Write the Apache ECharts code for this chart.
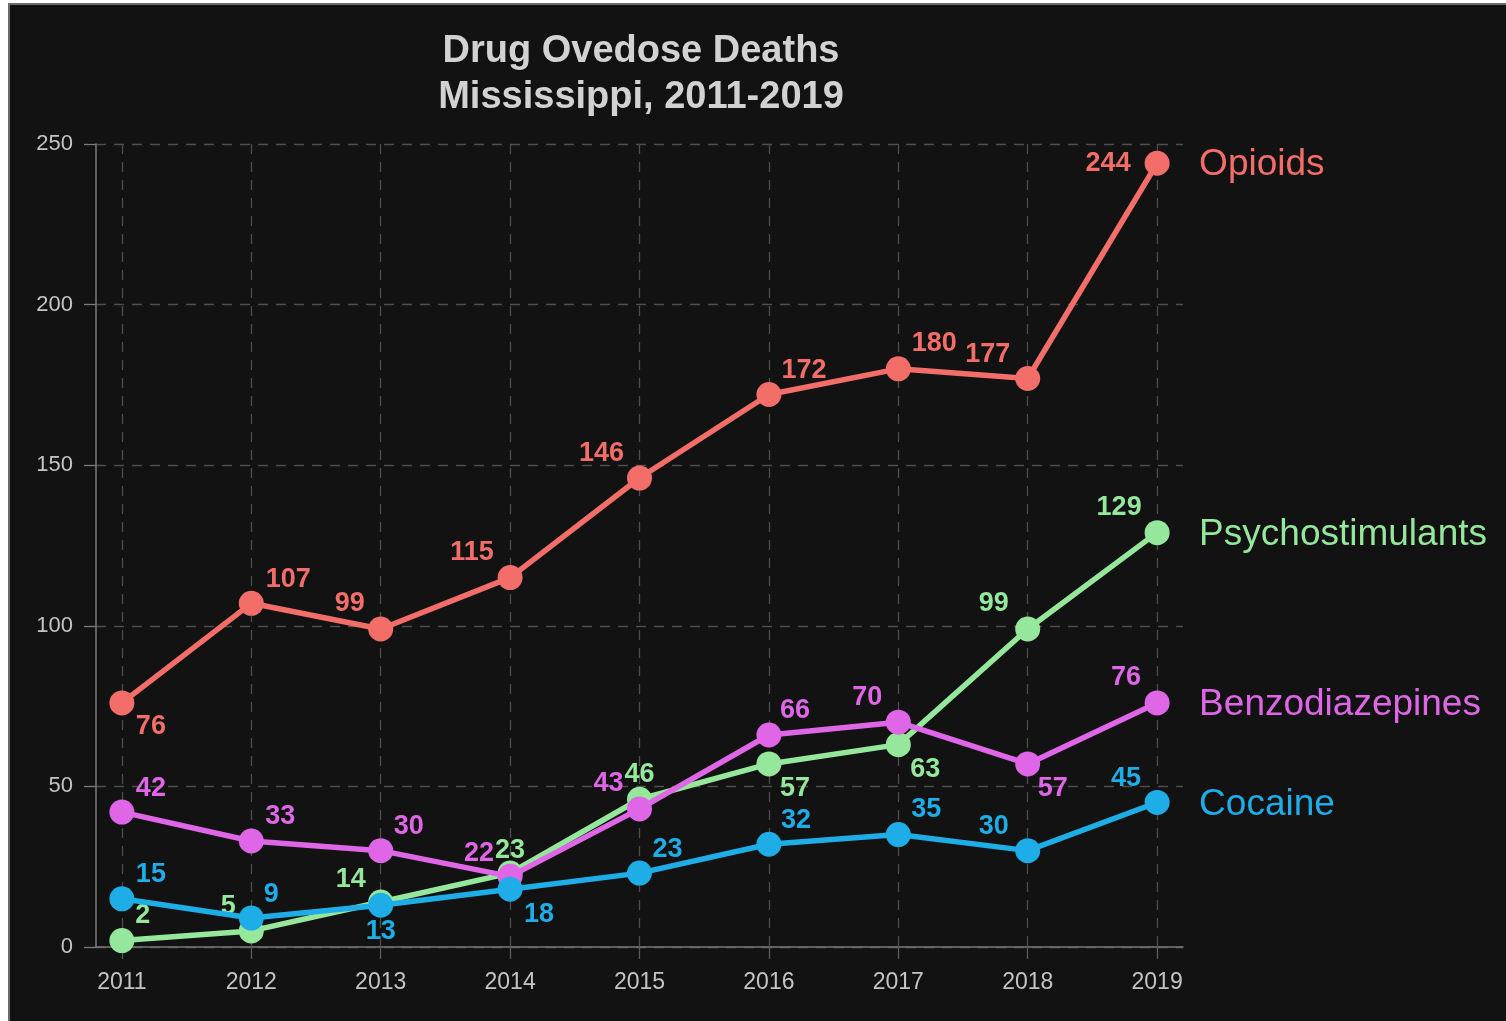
<!DOCTYPE html>
<html><head><meta charset="utf-8">
<script src="https://cdn.jsdelivr.net/npm/echarts@6/dist/echarts.min.js"></script>
<style>
html,body{margin:0;padding:0;background:#fff;width:1506px;height:1021px;overflow:hidden}
#panel{position:absolute;left:8px;top:3px;width:1520px;height:1040px;background:#121212;border-top:2px solid #6b6b6b;border-left:2px solid #6b6b6b;}
#chart{position:absolute;left:0;top:0;width:1506px;height:1021px}
</style></head><body>
<div id="panel"></div><div id="chart"></div>
<script>
const years = [2011, 2012, 2013, 2014, 2015, 2016, 2017, 2018, 2019];
const seriesNames = ['Opioids', 'Psychostimulants', 'Benzodiazepines', 'Cocaine'];
const opioids = [76, 107, 99, 115, 146, 172, 180, 177, 244];
const psychostimulants = [2, 5, 14, 23, 46, 57, 63, 99, 129];
const benzodiazepines = [42, 33, 30, 22, 43, 66, 70, 57, 76];
const cocaine = [15, 9, 13, 18, 23, 32, 35, 30, 45];
const yTicks = [0, 50, 100, 150, 200, 250];
const titleLines = ['Drug Ovedose Deaths', 'Mississippi, 2011-2019'];

// label placement (style only)
const labelOffsets = [
  [[29,22],[37,-26],[-31,-27],[-38,-27],[-38,-27],[35,-26],[36,-27],[-40,-26],[-49,-2]],
  [[21,-27],[-23,-26],[-30,-24],[0,-25],[0,-27],[26,23],[27,23],[-34,-27],[-38,-27]],
  [[29,-26],[29,-26],[28,-26],[-31,-25],[-31,-27],[26,-26],[-31,-27],[25,23],[-31,-27]],
  [[29,-26],[20,-26],[0,24],[29,23],[28,-26],[27,-26],[28,-27],[-34,-26],[-31,-26]]
];
const LABEL_DY = 2;
const colors = ['#f36e69', '#95e79c', '#e066e8', '#1eade6'];
const FONT = '"Liberation Sans", Arial, sans-serif';

const allValues = [opioids, psychostimulants, benzodiazepines, cocaine];

const series = allValues.map((vals, si) => ({
  name: seriesNames[si],
  type: 'line',
  data: vals.map((v, i) => ({
    value: [years[i], v],
    label: { offset: [labelOffsets[si][i][0], labelOffsets[si][i][1] + LABEL_DY] }
  })),
  symbol: 'circle',
  symbolSize: 25,
  lineStyle: { width: 5.5, color: colors[si] },
  itemStyle: { color: colors[si] },
  z: 2 + si,
  label: {
    show: true,
    position: 'inside',
    formatter: p => String(p.value[1]),
    color: colors[si],
    fontSize: 27,
    fontWeight: 'bold',
    fontFamily: FONT
  },
  endLabel: {
    show: true,
    formatter: '{a}',
    distance: 42,
    offset: [0, 2],
    color: colors[si],
    fontSize: 37,
    fontFamily: FONT
  },
  emphasis: { disabled: true }
}));

const chart = echarts.init(document.getElementById('chart'), null, { renderer: 'canvas' });
chart.setOption({
  animation: false,
  backgroundColor: 'transparent',
  graphic: [{
    type: 'text',
    x: 641,
    y: 29,
    style: {
      text: titleLines.join('\n'),
      align: 'center',
      verticalAlign: 'top',
      fill: '#d2d2d2',
      fontSize: 38,
      fontWeight: 'bold',
      fontFamily: FONT,
      lineHeight: 46
    }
  }],
  grid: { left: 96, top: 144, right: 323, bottom: 74, containLabel: false },
  xAxis: {
    type: 'value',
    min: 2010.8,
    max: 2019.2,
    axisLine: { show: true, lineStyle: { color: '#7a7a7a', width: 1.5 } },
    axisTick: { show: true, customValues: years, length: 12, lineStyle: { color: '#5a5a5a', width: 1.3 } },
    axisLabel: { customValues: years, formatter: v => String(v), color: '#c4c4c4', fontSize: 23, margin: 24, fontFamily: FONT },
    splitLine: { show: true, lineStyle: { color: '#4e4e4e', type: [10, 8], width: 1.3 } }
  },
  yAxis: {
    type: 'value',
    min: 0,
    max: 250,
    interval: 50,
    axisLine: { show: true, lineStyle: { color: '#7a7a7a', width: 1.5 } },
    axisTick: { show: true, length: 12, lineStyle: { color: '#7a7a7a', width: 1.3 } },
    axisLabel: { color: '#c4c4c4', fontSize: 22, margin: 23, fontFamily: FONT },
    splitLine: { show: true, lineStyle: { color: '#4e4e4e', type: [10, 8], width: 1.3 } }
  },
  series: series
});
</script>
</body></html>
